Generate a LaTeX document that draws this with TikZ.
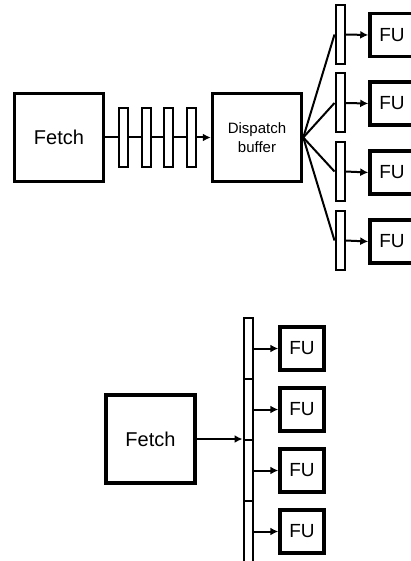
\documentclass[tikz,border=0pt]{standalone}
\usepackage{fontspec}
\setmainfont{Liberation Sans}
\usepackage{tikz}
\usetikzlibrary{positioning, arrows.meta}

\tikzset{
	stage/.style={draw, line width=3.5pt, inner sep=0pt, minimum width=89pt, minimum height=88pt, font=\fontsize{20}{22}\selectfont},
	unit/.style={draw, line width=3.5pt, inner sep=0pt, minimum width=44pt, minimum height=43pt, font=\fontsize{19}{21}\selectfont},
	latch/.style={draw, line width=2pt, fill=white, inner sep=0pt, minimum width=9pt, minimum height=59pt},
	wire/.style={line width=2pt},
}

\begin{document}
\begin{tikzpicture}[>={Latex[length=8pt,width=8pt]}, x=1pt, y=-1pt]
		\useasboundingbox (0,0) rectangle (411,561);
		\clip (0,0) rectangle (411,561);

		% upper machine
		\node[stage] (fetch) at (59,137.5) {Fetch};
		\node[stage, align=center, font=\fontsize{15}{19}\selectfont] (dispatch)
			at (257,137.5) {Dispatch\\buffer};

		\node[latch] (q1) at (123.5,137.5) {};
		\node[latch] (q2) at (146.5,137.5) {};
		\node[latch] (q3) at (168.5,137.5) {};
		\node[latch] (q4) at (191.5,137.5) {};

		\node[latch] (r1) at (340,34.5) {};
		\node[latch] (r2) at (340,103) {};
		\node[latch] (r3) at (340,171.5) {};
		\node[latch] (r4) at (340,240.5) {};

		\node[unit] (fu1) at (392,35) {FU};
		\node[unit] (fu2) at (392,103.5) {FU};
		\node[unit] (fu3) at (392,172.5) {FU};
		\node[unit] (fu4) at (392,241.5) {FU};

		\draw[wire] (fetch.east) -- (q1.west);
		\draw[wire] (q1.east) -- (q2.west);
		\draw[wire] (q2.east) -- (q3.west);
		\draw[wire] (q3.east) -- (q4.west);
		\draw[wire, ->] (q4.east) -- (dispatch.west);

		\draw[wire] (dispatch.east) -- (r1.west);
		\draw[wire] (dispatch.east) -- (r2.west);
		\draw[wire] (dispatch.east) -- (r3.west);
		\draw[wire] (dispatch.east) -- (r4.west);

		\draw[wire, ->] (r1.east) -- (fu1.west);
		\draw[wire, ->] (r2.east) -- (fu2.west);
		\draw[wire, ->] (r3.east) -- (fu3.west);
		\draw[wire, ->] (r4.east) -- (fu4.west);

		% lower machine
		\node[stage] (fetch2) at (150.5,439) {Fetch};

		\node[latch, minimum height=61pt] (b1) at (248,348.5) {};
		\node[latch, minimum height=61pt] (b2) at (248,409.5) {};
		\node[latch, minimum height=61pt] (b3) at (248,470.5) {};
		\node[latch, minimum height=61pt] (b4) at (248,531.5) {};

		\node[unit] (fu5) at (302,348.5) {FU};
		\node[unit] (fu6) at (302,409.5) {FU};
		\node[unit] (fu7) at (302,470.5) {FU};
		\node[unit] (fu8) at (302,531.5) {FU};

		\draw[wire, ->] (fetch2.east) -- (fetch2.east -| b2.west);

		\draw[wire, ->] (b1.east) -- (fu5.west);
		\draw[wire, ->] (b2.east) -- (fu6.west);
		\draw[wire, ->] (b3.east) -- (fu7.west);
		\draw[wire, ->] (b4.east) -- (fu8.west);
	\end{tikzpicture}
\end{document}
